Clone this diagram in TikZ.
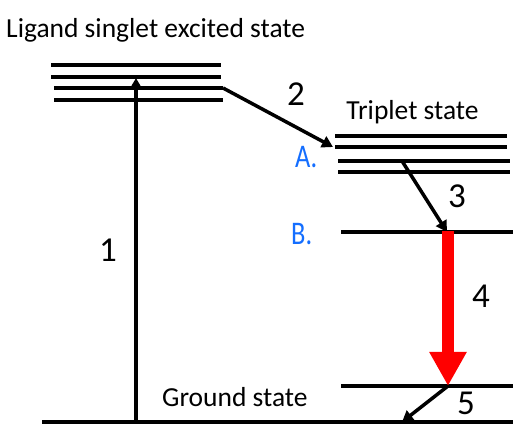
\documentclass[tikz,border=0pt]{standalone}
\usepackage{fontspec}
\setmainfont{Carlito}
\usetikzlibrary{arrows.meta}
\definecolor{handblue}{RGB}{20,110,255}
\definecolor{arrred}{RGB}{255,0,0}
\tikzset{
  level/.style={line width=3.7pt},
  trans/.style={line width=3.5pt,-{Triangle[width=12pt,length=11pt]}},
  lbl/.style={font=\fontsize{27.5}{32}\selectfont,inner sep=0pt,anchor=base},
  num/.style={font=\fontsize{35}{40}\selectfont,inner sep=0pt,anchor=base},
  hand/.style={font=\fontsize{33}{38}\selectfont,text=handblue,inner sep=0pt,anchor=base west,xscale=0.8},
}
\begin{document}
\begin{tikzpicture}[x=1pt,y=-1pt]
\useasboundingbox (0,0) rectangle (531,435);
% singlet levels
\coordinate (s1a) at (51,65);  \coordinate (s1b) at (221,65);
\coordinate (s2a) at (51,77);  \coordinate (s2b) at (221,77);
\coordinate (s3a) at (54,88);  \coordinate (s3b) at (223,88);
\coordinate (s4a) at (54,100); \coordinate (s4b) at (223,100);
\draw[level] (s1a) -- (s1b);
\draw[level] (s2a) -- (s2b);
\draw[level] (s3a) -- (s3b);
\draw[level] (s4a) -- (s4b);
% triplet levels
\coordinate (t1a) at (335,136); \coordinate (t1b) at (507,136);
\coordinate (t2a) at (335,147); \coordinate (t2b) at (507,147);
\coordinate (t3a) at (338,161); \coordinate (t3b) at (510,161);
\coordinate (t4a) at (338,172); \coordinate (t4b) at (510,172);
\draw[level] (t1a) -- (t1b);
\draw[level] (t2a) -- (t2b);
\draw[level] (t3a) -- (t3b);
\draw[level] (t4a) -- (t4b);
% B level
\coordinate (ba) at (341,232); \coordinate (bb) at (513,232);
\draw[level] (ba) -- (bb);
% ground levels
\coordinate (ga) at (341,386); \coordinate (gb) at (513,386);
\draw[level] (ga) -- (gb);
\coordinate (g0a) at (42,422); \coordinate (g0b) at (513,422);
\draw[level] (g0a) -- (g0b);
% transitions
\coordinate (a1s) at (136,422); \coordinate (a1e) at (136,78);
\draw[trans] (a1s) -- (a1e);
\coordinate (a2e) at (333,147);
\draw[trans] (s3b) -- (a2e);
\coordinate (a3s) at (402,161); \coordinate (a3e) at (447,232);
\draw[trans] (a3s) -- (a3e);
\coordinate (a4s) at (448,231); \coordinate (a4e) at (448,386);
\draw[draw=arrred,line width=12pt,-{Triangle[width=35pt,length=34pt]},arrred] (a4s) -- (a4e);
\coordinate (a5e) at (402,422);
\draw[trans] (a4e) -- (a5e);
% labels
\node[lbl,anchor=base west] (tsing) at (6,38) {Ligand singlet excited state};
\node[lbl] (ttrip) at (412.5,120) {Triplet state};
\node[lbl,anchor=base west] (tground) at (162,407) {Ground state};
\node[num] (n1) at (108,262) {1};
\node[num] (n2) at (296,106) {2};
\node[num] (n3) at (457,208) {3};
\node[num] (n4) at (481,308) {4};
\node[num] (n5) at (466,415) {5};
\node[hand] (hA) at (295,168) {A.};
\node[hand] (hB) at (291,245) {B.};
\end{tikzpicture}
\end{document}
